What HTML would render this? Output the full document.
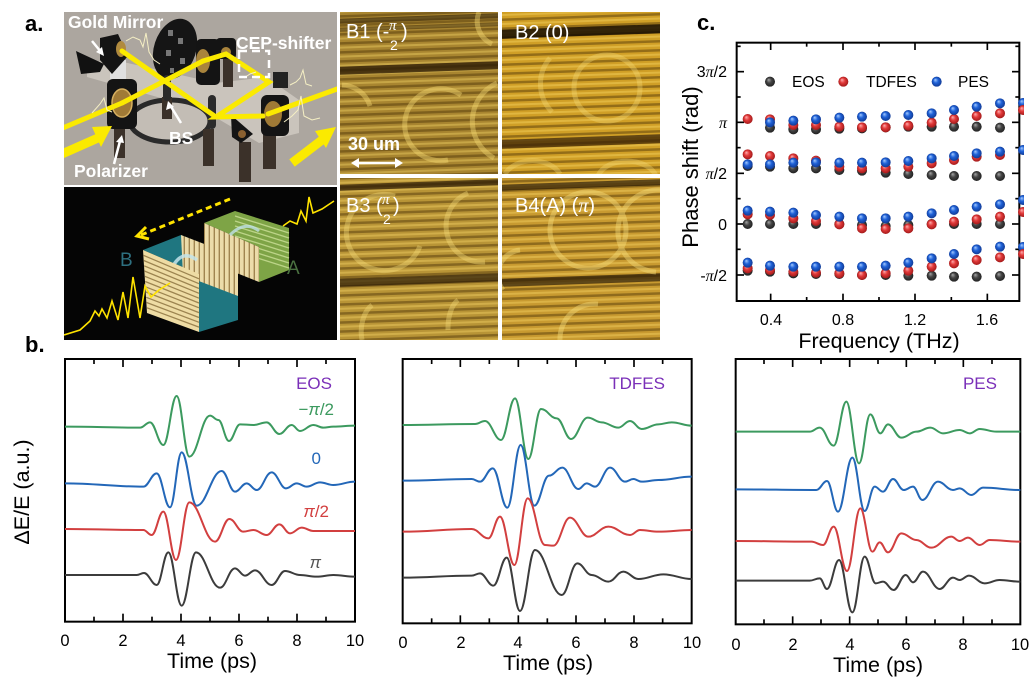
<!DOCTYPE html>
<html><head><meta charset="utf-8">
<style>
html,body{margin:0;padding:0;background:#fff;}
svg{display:block;}
text{font-family:"Liberation Sans",Arial,sans-serif;}
.ser{font-family:"Liberation Serif","Times New Roman",serif;}
</style></head><body>
<svg width="1033" height="693" viewBox="0 0 1033 693" xmlns="http://www.w3.org/2000/svg">
<defs>
<radialGradient id="gk" cx="0.5" cy="0.5" r="0.55" fx="0.35" fy="0.3"><stop offset="0" stop-color="#a8a8a8"/><stop offset="0.45" stop-color="#454545"/><stop offset="1" stop-color="#1c1c1c"/></radialGradient>
<radialGradient id="gr" cx="0.5" cy="0.5" r="0.55" fx="0.35" fy="0.3"><stop offset="0" stop-color="#ffb0b0"/><stop offset="0.45" stop-color="#e23a3a"/><stop offset="1" stop-color="#9a1515"/></radialGradient>
<radialGradient id="gb" cx="0.5" cy="0.5" r="0.55" fx="0.35" fy="0.3"><stop offset="0" stop-color="#a8ccff"/><stop offset="0.45" stop-color="#1f62d8"/><stop offset="1" stop-color="#0f358c"/></radialGradient>
<pattern id="str" width="30" height="9" patternUnits="userSpaceOnUse" patternTransform="rotate(-2)">
<rect y="0" width="30" height="2.5" fill="#4a3006" opacity="0.45"/>
<rect y="4.5" width="30" height="2" fill="#ffe070" opacity="0.35"/>
</pattern>
<pattern id="vs" width="5" height="10" patternUnits="userSpaceOnUse">
<rect width="5" height="10" fill="#ecdcaa"/><rect x="3.6" width="1.4" height="10" fill="#a08550"/>
</pattern>
<clipPath id="cA"><rect x="64" y="12" width="273" height="173"/></clipPath>
<clipPath id="cB"><rect x="64" y="187" width="273" height="153"/></clipPath>
<clipPath id="c1"><rect x="340" y="12" width="158" height="162"/></clipPath>
<clipPath id="c2"><rect x="502" y="12" width="158" height="162"/></clipPath>
<clipPath id="c3"><rect x="340" y="178" width="158" height="162"/></clipPath>
<clipPath id="c4"><rect x="502" y="178" width="158" height="162"/></clipPath>
<clipPath id="cR"><rect x="0" y="0" width="1024" height="693"/></clipPath>
</defs>

<!-- panel labels -->
<text x="25" y="31" font-size="22" font-weight="bold">a.</text>
<text x="25" y="352" font-size="22" font-weight="bold">b.</text>
<text x="697" y="30" font-size="22" font-weight="bold">c.</text>

<!-- ===== Setup image ===== -->
<g clip-path="url(#cA)">
<rect x="64" y="12" width="273" height="173" fill="#aca69f"/>
<polygon points="87,64 110,59 216,83 266,77 299,100 299,133 259,143 203,110 87,77" fill="#cac4bc"/>
<ellipse cx="170" cy="121" rx="40" ry="21" fill="#c3bdb5" stroke="#2a2a2a" stroke-width="5"/>
<g fill="#3b3129">
<rect x="114" y="116" width="11" height="42"/>
<rect x="162" y="97" width="10" height="22"/>
<rect x="203" y="129" width="11" height="37"/>
<rect x="223" y="57" width="10" height="30"/>
<rect x="239" y="142" width="12" height="40"/>
<rect x="263" y="133" width="13" height="36"/>
</g>
<polygon points="76,51 104,64 100,72 81,74" fill="#111"/>
<rect x="110" y="60" width="16" height="30" fill="#e0e0e0"/>
<polygon points="100,38 118,34 128,56 112,74 100,60" fill="#141414"/>
<ellipse cx="121" cy="49" rx="5" ry="8" fill="#b08a3e"/>
<ellipse cx="175" cy="49" rx="21" ry="31" transform="rotate(18 175 49)" fill="#151515"/>
<g fill="#777"><rect x="168" y="30" width="5" height="6"/><rect x="178" y="38" width="5" height="6"/><rect x="166" y="50" width="5" height="6"/><rect x="180" y="58" width="5" height="6"/><rect x="170" y="68" width="4" height="5"/></g>
<rect x="107" y="79" width="30" height="50" rx="6" fill="#141414"/>
<ellipse cx="122" cy="103" rx="10" ry="14" fill="#a07a36" stroke="#d7b060" stroke-width="1.5"/>
<rect x="196" y="39" width="24" height="46" rx="5" fill="#141414"/>
<ellipse cx="203" cy="61" rx="7" ry="12" fill="#a9843c"/>
<rect x="216" y="38" width="20" height="21" rx="4" fill="#141414"/>
<ellipse cx="226" cy="52" rx="5" ry="5" fill="#a9843c"/>
<rect x="261" y="95" width="28" height="41" rx="6" fill="#141414"/>
<ellipse cx="273" cy="114" rx="9" ry="13" fill="#a07a36"/>
<polygon points="231,115 253,134 241,143 232,137" fill="#141414"/>
<circle cx="242" cy="134" r="4" fill="#8a6030"/>
<rect x="163" y="75" width="8" height="26" rx="4" fill="#2b2b2b"/>
<rect x="208" y="95" width="8" height="34" rx="4" fill="#2b2b2b"/>
<rect x="273" y="72" width="15" height="16" fill="#222"/>
<g stroke="#fbea00" stroke-width="5" stroke-linecap="round" fill="none">
<line x1="58" y1="130" x2="122" y2="103"/>
<line x1="122" y1="103" x2="203" y2="61"/>
<line x1="122" y1="51" x2="216" y2="117"/>
<polyline points="203,61 226,54 269,82 216,117 263,116"/>
<line x1="268" y1="114" x2="340" y2="88"/>
</g>
<line x1="62" y1="154" x2="98" y2="138" stroke="#fbea00" stroke-width="9"/>
<polygon points="112,126 92,127 101,147" fill="#fbea00"/>
<line x1="292" y1="163" x2="322" y2="140" stroke="#fbea00" stroke-width="9"/>
<polygon points="336,127 315,131 326,148" fill="#fbea00"/>
<g stroke="#f5efc4" stroke-width="1" fill="none">
<polyline points="126,41 133,37 140,40 143,47 146,33 149,52 154,60 160,64"/>
<polyline points="92,113 100,104 104,98 107,110 112,112"/>
<polyline points="284,122 292,116 298,110 301,96 304,116 312,120 320,118"/>
<polyline points="290,85 296,82 300,78 303,70 306,84 312,86"/>
<polyline points="244,78 250,74 256,72"/>
</g>
<g stroke="#fff" stroke-width="2.5" fill="none" stroke-dasharray="8 5"><rect x="239" y="51" width="30" height="26"/></g>
<g stroke="#fff" stroke-width="2.5" fill="#fff">
<line x1="92" y1="41" x2="101" y2="52"/>
<line x1="114" y1="164" x2="120" y2="141"/>
<line x1="181" y1="123" x2="170" y2="105"/>
</g>
<polygon points="104,56 96,52 102,47" fill="#fff"/>
<polygon points="122,135 116,142 124,143" fill="#fff"/>
<polygon points="168,101 166,110 174,107" fill="#fff"/>
<g fill="#fff" font-weight="bold" font-size="17.5">
<text x="68" y="28">Gold Mirror</text>
<text x="236" y="49">CEP-shifter</text>
<text x="169" y="144">BS</text>
<text x="74" y="177">Polarizer</text>
</g>
</g>

<!-- ===== Metamaterial image ===== -->
<g clip-path="url(#cB)">
<rect x="64" y="187" width="273" height="153" fill="#050505"/>
<polygon points="204,223 235,211 289,228 289,270 259,282 259,247" fill="#7ea446"/>
<g stroke="#bcd488" stroke-width="1.3">
<line x1="235" y1="216" x2="289" y2="233"/><line x1="235" y1="221" x2="289" y2="238"/><line x1="235" y1="226" x2="289" y2="243"/><line x1="235" y1="231" x2="289" y2="248"/><line x1="235" y1="236" x2="289" y2="253"/><line x1="235" y1="241" x2="289" y2="258"/><line x1="235" y1="246" x2="289" y2="263"/><line x1="235" y1="251" x2="289" y2="268"/>
</g>
<polygon points="204,223 259,247 259,282 204,260" fill="url(#vs)"/>
<path d="M230,235 Q245,220 259,231" stroke="#bfe0e6" stroke-width="3" fill="none" opacity="0.8"/>
<polygon points="143,250 181,235 238,258 238,320 199,332 199,274" fill="#1f7680"/>
<polygon points="181,235 238,257 238,296 183,275" fill="url(#vs)"/>
<path d="M171,270 Q181,248 197,260" stroke="#c4e4ea" stroke-width="3.5" fill="none" opacity="0.85"/>
<polygon points="143,250 199,274 199,332 147,313" fill="#eedca4"/>
<g stroke="#9c8450" stroke-width="1.3">
<line x1="143.4" y1="255.3" x2="199" y2="278.8"/><line x1="143.7" y1="260.5" x2="199" y2="283.7"/><line x1="144.1" y1="265.8" x2="199" y2="288.5"/><line x1="144.4" y1="271" x2="199" y2="293.3"/><line x1="144.8" y1="276.3" x2="199" y2="298.2"/><line x1="145.2" y1="281.5" x2="199" y2="303"/><line x1="145.5" y1="286.8" x2="199" y2="307.8"/><line x1="145.9" y1="292" x2="199" y2="312.6"/><line x1="146.2" y1="297.3" x2="199" y2="317.5"/><line x1="146.6" y1="302.5" x2="199" y2="322.3"/><line x1="147" y1="307.8" x2="199" y2="327.1"/>
</g>
<line x1="230" y1="199" x2="141" y2="235" stroke="#ffe300" stroke-width="3" stroke-dasharray="6 4"/>
<polyline points="146,227 137,236 149,239" stroke="#ffe300" stroke-width="3" fill="none"/>
<polyline points="334,201 322,209 313,213 309,197 306,221 301,211 297,224 290,221 283,226" stroke="#ffe300" stroke-width="1.6" fill="none"/>
<polyline points="64,335 80,330 90,321 95,311 99,316 102,309 107,318 112,301 118,320 123,292 128,318 133,277 140,318 145,286 151,297 159,290 170,283" stroke="#ffe300" stroke-width="1.6" fill="none"/>
<text x="120" y="266" font-size="19" fill="#2e7080">B</text>
<text x="287" y="274" font-size="19" fill="#4a7040">A</text>
</g>

<!-- ===== Microscope tiles ===== -->
<g clip-path="url(#c1)">
<rect x="340" y="12" width="158" height="162" fill="#a88530"/>
<rect x="330" y="5" width="180" height="175" fill="url(#str)"/>
<g transform="rotate(-2 419 90)">
<rect x="330" y="16" width="180" height="5" fill="#2a1a05" opacity="0.6"/>
<rect x="330" y="25" width="180" height="4" fill="#3a2808" opacity="0.5"/>
<rect x="330" y="64" width="180" height="8" fill="#2a1a05" opacity="0.75"/>
</g>
<g stroke="#f3d772" stroke-width="5" fill="none" opacity="0.45">
<path d="M461,95 A36 36 0 1 0 448,160"/>
<path d="M342,85 A30 30 0 0 1 370,106"/>
<path d="M497,83 A42 42 0 0 0 494,158"/>
<path d="M479,12 A25 25 0 0 0 492,44"/>
</g>
</g>
<g clip-path="url(#c2)">
<rect x="502" y="12" width="158" height="162" fill="#d09f26"/>
<rect x="490" y="5" width="180" height="175" fill="url(#str)"/>
<g transform="rotate(-2 581 90)">
<rect x="490" y="27" width="180" height="9" fill="#150c02" opacity="0.85"/>
<rect x="490" y="137" width="180" height="9" fill="#3a2205" opacity="0.75"/>
</g>
<g stroke="#f5dc7a" stroke-width="5" fill="none" opacity="0.35">
<circle cx="607" cy="88" r="33"/>
<path d="M550,58 A40 40 0 0 0 552,112"/>
<path d="M505,174 A30 22 0 0 1 560,174"/>
<path d="M598,176 A30 20 0 0 1 656,176"/>
</g>
</g>
<g clip-path="url(#c3)">
<rect x="340" y="178" width="158" height="162" fill="#b89436"/>
<rect x="330" y="170" width="180" height="175" fill="url(#str)"/>
<g transform="rotate(-2 419 259)">
<rect x="330" y="182" width="180" height="6" fill="#2a1a05" opacity="0.7"/>
<rect x="330" y="276" width="180" height="8" fill="#2a1a05" opacity="0.7"/>
</g>
<g stroke="#f5dc7a" stroke-width="5" fill="none" opacity="0.4">
<path d="M395,196 A38 38 0 1 0 420,246"/>
<path d="M468,193 A36 36 0 0 0 485,262"/>
<path d="M362,340 A20 30 0 0 1 372,305"/>
<path d="M448,330 A15 30 0 0 1 458,300"/>
</g>
</g>
<g clip-path="url(#c4)">
<rect x="502" y="178" width="158" height="162" fill="#c89a30"/>
<rect x="490" y="170" width="180" height="175" fill="url(#str)"/>
<g transform="rotate(-2 581 259)">
<rect x="490" y="182" width="180" height="6" fill="#2a1a05" opacity="0.7"/>
<rect x="490" y="276" width="180" height="8" fill="#2a1a05" opacity="0.7"/>
</g>
<g stroke="#f5dc7a" stroke-width="5" fill="none" opacity="0.45">
<circle cx="588" cy="230" r="38"/>
<path d="M662,190 A40 40 0 0 0 656,272"/>
<path d="M560,340 A35 35 0 0 1 598,304"/>
<path d="M503,290 A25 25 0 0 1 520,250"/>
</g>
</g>
<!-- tile labels -->
<g fill="#fff" font-size="20">
<text x="346" y="38">B1 (-</text>
<text x="389" y="30" font-size="15" class="ser" font-style="italic">π</text>
<text x="390" y="50" font-size="14">2</text>
<text x="401" y="38">)</text>
<text x="515" y="39">B2 (0)</text>
<text x="346" y="212">B3 (</text>
<text x="382" y="204" font-size="15" class="ser" font-style="italic">π</text>
<text x="383" y="224" font-size="14">2</text>
<text x="393" y="212">)</text>
<text x="515" y="212">B4(A) (<tspan class="ser" font-style="italic">π</tspan>)</text>
<text x="348" y="150" font-weight="bold" font-size="18">30 um</text>
</g>
<line x1="356" y1="163" x2="398" y2="163" stroke="#fff" stroke-width="2.5"/>
<polygon points="351,163 359,158 359,168" fill="#fff"/>
<polygon points="403,163 395,158 395,168" fill="#fff"/>

<!-- ===== Panel c ===== -->
<g transform="translate(680,0) scale(0.333333)">
<rect x="170" y="128" width="848" height="775" fill="none" stroke="#000" stroke-width="6"/>
<g stroke="#000" stroke-width="5">
<line x1="170" y1="215" x2="192" y2="215"/><line x1="170" y1="367" x2="192" y2="367"/><line x1="170" y1="520" x2="192" y2="520"/><line x1="170" y1="672" x2="192" y2="672"/><line x1="170" y1="825" x2="192" y2="825"/>
<line x1="170" y1="139" x2="182" y2="139"/><line x1="170" y1="291" x2="182" y2="291"/><line x1="170" y1="443" x2="182" y2="443"/><line x1="170" y1="596" x2="182" y2="596"/><line x1="170" y1="748" x2="182" y2="748"/>
<line x1="1018" y1="215" x2="996" y2="215"/><line x1="1018" y1="367" x2="996" y2="367"/><line x1="1018" y1="520" x2="996" y2="520"/><line x1="1018" y1="672" x2="996" y2="672"/><line x1="1018" y1="825" x2="996" y2="825"/>
<line x1="1018" y1="139" x2="1006" y2="139"/><line x1="1018" y1="291" x2="1006" y2="291"/><line x1="1018" y1="443" x2="1006" y2="443"/><line x1="1018" y1="596" x2="1006" y2="596"/><line x1="1018" y1="748" x2="1006" y2="748"/>
<line x1="272" y1="903" x2="272" y2="881"/><line x1="489" y1="903" x2="489" y2="881"/><line x1="705" y1="903" x2="705" y2="881"/><line x1="922" y1="903" x2="922" y2="881"/>
<line x1="380" y1="903" x2="380" y2="891"/><line x1="597" y1="903" x2="597" y2="891"/><line x1="814" y1="903" x2="814" y2="891"/>
<line x1="272" y1="128" x2="272" y2="150"/><line x1="489" y1="128" x2="489" y2="150"/><line x1="705" y1="128" x2="705" y2="150"/><line x1="922" y1="128" x2="922" y2="150"/>
<line x1="380" y1="128" x2="380" y2="140"/><line x1="597" y1="128" x2="597" y2="140"/><line x1="814" y1="128" x2="814" y2="140"/>
</g>
<!-- black -->
<g fill="url(#gk)">
<circle cx="270" cy="383" r="15"/><circle cx="340" cy="388" r="15"/><circle cx="408" cy="388" r="15"/><circle cx="478" cy="386" r="15"/><circle cx="546" cy="385" r="15"/><circle cx="617" cy="382" r="15"/><circle cx="685" cy="380" r="15"/><circle cx="755" cy="380" r="15"/><circle cx="822" cy="380" r="15"/><circle cx="890" cy="380" r="15"/><circle cx="960" cy="383" r="15"/>
<circle cx="203" cy="498" r="15"/><circle cx="270" cy="500" r="15"/><circle cx="340" cy="505" r="15"/><circle cx="408" cy="505" r="15"/><circle cx="478" cy="510" r="15"/><circle cx="546" cy="512" r="15"/><circle cx="617" cy="518" r="15"/><circle cx="685" cy="522" r="15"/><circle cx="755" cy="525" r="15"/><circle cx="822" cy="528" r="15"/><circle cx="890" cy="528" r="15"/><circle cx="960" cy="528" r="15"/>
<circle cx="203" cy="672" r="15"/><circle cx="270" cy="672" r="15"/><circle cx="340" cy="672" r="15"/><circle cx="408" cy="672" r="15"/><circle cx="478" cy="672" r="15"/><circle cx="546" cy="675" r="15"/><circle cx="617" cy="678" r="15"/><circle cx="685" cy="675" r="15"/><circle cx="755" cy="672" r="15"/><circle cx="822" cy="672" r="15"/><circle cx="890" cy="672" r="15"/><circle cx="960" cy="672" r="15"/>
<circle cx="203" cy="812" r="15"/><circle cx="270" cy="815" r="15"/><circle cx="340" cy="820" r="15"/><circle cx="408" cy="822" r="15"/><circle cx="478" cy="822" r="15"/><circle cx="546" cy="825" r="15"/><circle cx="617" cy="825" r="15"/><circle cx="685" cy="827" r="15"/><circle cx="755" cy="827" r="15"/><circle cx="822" cy="830" r="15"/><circle cx="890" cy="830" r="15"/><circle cx="960" cy="828" r="15"/>
</g>
<!-- red -->
<g fill="url(#gr)">
<circle cx="203" cy="357" r="15"/><circle cx="270" cy="358" r="15"/><circle cx="340" cy="375" r="15"/><circle cx="408" cy="375" r="15"/><circle cx="478" cy="380" r="15"/><circle cx="546" cy="382" r="15"/><circle cx="617" cy="382" r="15"/><circle cx="685" cy="377" r="15"/><circle cx="755" cy="368" r="15"/><circle cx="822" cy="357" r="15"/><circle cx="890" cy="348" r="15"/><circle cx="960" cy="340" r="15"/>
<circle cx="203" cy="463" r="15"/><circle cx="270" cy="468" r="15"/><circle cx="340" cy="475" r="15"/><circle cx="408" cy="482" r="15"/><circle cx="478" cy="500" r="15"/><circle cx="546" cy="505" r="15"/><circle cx="617" cy="505" r="15"/><circle cx="685" cy="500" r="15"/><circle cx="755" cy="490" r="15"/><circle cx="822" cy="480" r="15"/><circle cx="890" cy="470" r="15"/><circle cx="960" cy="465" r="15"/>
<circle cx="203" cy="643" r="15"/><circle cx="270" cy="645" r="15"/><circle cx="340" cy="655" r="15"/><circle cx="408" cy="663" r="15"/><circle cx="478" cy="673" r="15"/><circle cx="546" cy="685" r="15"/><circle cx="617" cy="687" r="15"/><circle cx="685" cy="685" r="15"/><circle cx="755" cy="673" r="15"/><circle cx="822" cy="665" r="15"/><circle cx="890" cy="658" r="15"/><circle cx="960" cy="650" r="15"/>
<circle cx="203" cy="805" r="15"/><circle cx="270" cy="810" r="15"/><circle cx="340" cy="815" r="15"/><circle cx="408" cy="818" r="15"/><circle cx="478" cy="820" r="15"/><circle cx="546" cy="825" r="15"/><circle cx="617" cy="820" r="15"/><circle cx="685" cy="812" r="15"/><circle cx="755" cy="800" r="15"/><circle cx="822" cy="790" r="15"/><circle cx="890" cy="780" r="15"/><circle cx="960" cy="772" r="15"/>
</g>
<!-- blue -->
<g fill="url(#gb)">
<circle cx="270" cy="367" r="15"/><circle cx="340" cy="362" r="15"/><circle cx="408" cy="358" r="15"/><circle cx="478" cy="353" r="15"/><circle cx="546" cy="350" r="15"/><circle cx="617" cy="348" r="15"/><circle cx="685" cy="345" r="15"/><circle cx="755" cy="340" r="15"/><circle cx="822" cy="330" r="15"/><circle cx="890" cy="320" r="15"/><circle cx="960" cy="310" r="15"/>
<circle cx="203" cy="493" r="15"/><circle cx="270" cy="493" r="15"/><circle cx="340" cy="488" r="15"/><circle cx="408" cy="487" r="15"/><circle cx="478" cy="488" r="15"/><circle cx="546" cy="488" r="15"/><circle cx="617" cy="487" r="15"/><circle cx="685" cy="483" r="15"/><circle cx="755" cy="475" r="15"/><circle cx="822" cy="468" r="15"/><circle cx="890" cy="460" r="15"/><circle cx="960" cy="455" r="15"/>
<circle cx="203" cy="632" r="15"/><circle cx="270" cy="635" r="15"/><circle cx="340" cy="638" r="15"/><circle cx="408" cy="645" r="15"/><circle cx="478" cy="650" r="15"/><circle cx="546" cy="655" r="15"/><circle cx="617" cy="655" r="15"/><circle cx="685" cy="650" r="15"/><circle cx="755" cy="640" r="15"/><circle cx="822" cy="630" r="15"/><circle cx="890" cy="620" r="15"/><circle cx="960" cy="613" r="15"/>
<circle cx="203" cy="788" r="15"/><circle cx="270" cy="797" r="15"/><circle cx="340" cy="800" r="15"/><circle cx="408" cy="800" r="15"/><circle cx="478" cy="800" r="15"/><circle cx="546" cy="800" r="15"/><circle cx="617" cy="797" r="15"/><circle cx="685" cy="788" r="15"/><circle cx="755" cy="775" r="15"/><circle cx="822" cy="762" r="15"/><circle cx="890" cy="748" r="15"/><circle cx="960" cy="740" r="15"/>
</g>
<circle cx="270" cy="245" r="15" fill="url(#gk)"/>
<circle cx="490" cy="245" r="15" fill="url(#gr)"/>
<circle cx="770" cy="245" r="15" fill="url(#gb)"/>
</g>
<g clip-path="url(#cR)">
<circle cx="1023" cy="103" r="5" fill="url(#gb)"/><circle cx="1023" cy="110" r="5" fill="url(#gr)"/>
<circle cx="1023" cy="150" r="5" fill="url(#gb)"/><circle cx="1023" cy="200" r="5" fill="url(#gb)"/>
<circle cx="1023" cy="212" r="5" fill="url(#gr)"/><circle cx="1023" cy="247" r="5" fill="url(#gb)"/><circle cx="1023" cy="254" r="5" fill="url(#gr)"/>
</g>
<g font-size="15.5">
<text x="792" y="87">EOS</text>
<text x="866" y="87">TDFES</text>
<text x="958" y="87">PES</text>
</g>
<g font-size="16" text-anchor="end">
<text x="727" y="77">3<tspan class="ser" font-style="italic">π</tspan>/2</text>
<text x="727" y="128" class="ser" font-style="italic">π</text>
<text x="727" y="179"><tspan class="ser" font-style="italic">π</tspan>/2</text>
<text x="727" y="230">0</text>
<text x="727" y="281">-<tspan class="ser" font-style="italic">π</tspan>/2</text>
</g>
<g font-size="16" text-anchor="middle">
<text x="771" y="325">0.4</text><text x="843" y="325">0.8</text><text x="915" y="325">1.2</text><text x="987" y="325">1.6</text>
</g>
<text x="879" y="348" font-size="21.5" text-anchor="middle">Frequency (THz)</text>
<text transform="translate(698,167) rotate(-90)" font-size="22" text-anchor="middle">Phase shift (rad)</text>

<!-- ===== Panel b plot 1 (EOS) ===== -->
<g transform="translate(0,335) scale(0.333333)">
<rect x="195" y="72" width="870" height="788" fill="none" stroke="#000" stroke-width="6"/>
<g stroke="#000" stroke-width="5">
<line x1="369" y1="72" x2="369" y2="96"/><line x1="543" y1="72" x2="543" y2="96"/><line x1="717" y1="72" x2="717" y2="96"/><line x1="891" y1="72" x2="891" y2="96"/>
<line x1="282" y1="72" x2="282" y2="87"/><line x1="456" y1="72" x2="456" y2="87"/><line x1="630" y1="72" x2="630" y2="87"/><line x1="804" y1="72" x2="804" y2="87"/><line x1="978" y1="72" x2="978" y2="87"/>
<line x1="369" y1="860" x2="369" y2="836"/><line x1="543" y1="860" x2="543" y2="836"/><line x1="717" y1="860" x2="717" y2="836"/><line x1="891" y1="860" x2="891" y2="836"/>
<line x1="282" y1="860" x2="282" y2="845"/><line x1="456" y1="860" x2="456" y2="845"/><line x1="630" y1="860" x2="630" y2="845"/><line x1="804" y1="860" x2="804" y2="845"/><line x1="978" y1="860" x2="978" y2="845"/>
</g>
<g fill="none" stroke-width="6" stroke-linejoin="round">
<path stroke="#3c9a5f" d="M195,275 C285,275 330,278 420,278 C432,278 438,262 450,262 C466,262 474,330 490,330 C506,330 514,183 530,183 C545,183 553,365 568,365 C593,365 605,242 630,242 C640,242 645,255 655,255 C668,255 674,318 687,318 C700,318 707,268 720,268 C736,268 744,270 760,270 C776,270 784,262 800,262 C815,262 823,297 838,297 C853,297 860,270 875,270 C885,270 890,288 900,288 C916,288 924,270 940,270 C952,270 958,278 970,278 C982,278 988,275 1000,275 C1026,275 1039,272 1065,272"/>
<path stroke="#2367b8" d="M195,445 C289,445 336,455 430,455 C446,455 454,415 470,415 C486,415 494,517 510,517 C524,517 531,352 545,352 C563,352 572,512 590,512 C620,512 635,408 665,408 C681,408 689,470 705,470 C719,470 726,445 740,445 C752,445 758,465 770,465 C788,465 797,412 815,412 C832,412 841,460 858,460 C871,460 877,445 890,445 C902,445 908,455 920,455 C936,455 944,442 960,442 C976,442 984,450 1000,450 C1026,450 1039,440 1065,440"/>
<path stroke="#d23f3f" d="M195,582 C289,582 336,585 430,585 C440,585 445,600 455,600 C469,600 476,530 490,530 C505,530 513,675 528,675 C544,675 552,502 568,502 C599,502 614,620 645,620 C662,620 671,552 688,552 C705,552 713,590 730,590 C742,590 748,585 760,585 C776,585 784,600 800,600 C815,600 823,568 838,568 C851,568 857,595 870,595 C884,595 891,578 905,578 C919,578 926,588 940,588 C990,588 1015,588 1065,588"/>
<path stroke="#3c3c3c" d="M195,720 C281,720 324,720 410,720 C419,720 423,714 432,714 C447,714 455,750 470,750 C484,750 491,652 505,652 C521,652 529,812 545,812 C562,812 571,652 588,652 C617,652 631,758 660,758 C678,758 687,700 705,700 C717,700 723,722 735,722 C747,722 753,706 765,706 C785,706 795,750 815,750 C831,750 839,708 855,708 C873,708 882,720 900,720 C920,720 930,725 950,725 C970,725 980,720 1000,720 C1026,720 1039,725 1065,725"/>
</g>
</g>
<g font-size="16.5" text-anchor="middle">
<text x="65" y="646">0</text><text x="123" y="646">2</text><text x="181" y="646">4</text><text x="239" y="646">6</text><text x="297" y="646">8</text><text x="355" y="646">10</text>
</g>
<text x="212" y="668" font-size="21.5" text-anchor="middle">Time (ps)</text>
<text transform="translate(29,492) rotate(-90)" font-size="21.5" text-anchor="middle">ΔE/E (a.u.)</text>
<text x="332" y="389" font-size="17" fill="#7a2fb8" text-anchor="end">EOS</text>
<g class="ser" font-size="17" text-anchor="end">
<text x="334" y="415" fill="#3c9a5f">−<tspan font-style="italic">π</tspan>/2</text>
<text x="321" y="464" fill="#2367b8">0</text>
<text x="329" y="517" fill="#d23f3f"><tspan font-style="italic">π</tspan>/2</text>
<text x="321" y="568" fill="#555" font-style="italic">π</text>
</g>

<!-- ===== Panel b plot 2 (TDFES) ===== -->
<g transform="translate(345,335) scale(0.333333)">
<rect x="173" y="72" width="867" height="793" fill="none" stroke="#000" stroke-width="6"/>
<g stroke="#000" stroke-width="5">
<line x1="346" y1="72" x2="346" y2="96"/><line x1="520" y1="72" x2="520" y2="96"/><line x1="693" y1="72" x2="693" y2="96"/><line x1="867" y1="72" x2="867" y2="96"/>
<line x1="260" y1="72" x2="260" y2="87"/><line x1="433" y1="72" x2="433" y2="87"/><line x1="607" y1="72" x2="607" y2="87"/><line x1="780" y1="72" x2="780" y2="87"/><line x1="953" y1="72" x2="953" y2="87"/>
<line x1="346" y1="865" x2="346" y2="841"/><line x1="520" y1="865" x2="520" y2="841"/><line x1="693" y1="865" x2="693" y2="841"/><line x1="867" y1="865" x2="867" y2="841"/>
<line x1="260" y1="865" x2="260" y2="850"/><line x1="433" y1="865" x2="433" y2="850"/><line x1="607" y1="865" x2="607" y2="850"/><line x1="780" y1="865" x2="780" y2="850"/><line x1="953" y1="865" x2="953" y2="850"/>
</g>
<g fill="none" stroke-width="6" stroke-linejoin="round">
<path stroke="#3c9a5f" d="M173,270 C260,270 303,267 390,267 C402,267 408,258 420,258 C439,258 449,315 468,315 C485,315 493,190 510,190 C526,190 534,372 550,372 C565,372 573,222 588,222 C607,222 616,250 635,250 C652,250 661,312 678,312 C698,312 708,248 728,248 C745,248 753,262 770,262 C790,262 800,278 820,278 C834,278 841,258 855,258 C869,258 876,282 890,282 C910,282 920,268 940,268 C956,268 964,262 980,262 C1004,262 1016,272 1040,272"/>
<path stroke="#2367b8" d="M173,437 C256,437 297,432 380,432 C390,432 395,440 405,440 C420,440 428,400 443,400 C461,400 469,518 487,518 C503,518 511,330 527,330 C543,330 552,512 568,512 C586,512 594,422 612,422 C628,422 636,398 652,398 C671,398 681,462 700,462 C710,462 715,445 725,445 C735,445 740,455 750,455 C768,455 777,398 795,398 C813,398 822,440 840,440 C850,440 855,432 865,432 C875,432 880,440 890,440 C910,440 920,435 940,435 C980,435 1000,425 1040,425"/>
<path stroke="#d23f3f" d="M173,590 C256,590 297,582 380,582 C400,582 410,610 430,610 C444,610 451,545 465,545 C482,545 491,690 508,690 C524,690 532,490 548,490 C569,490 579,630 600,630 C610,630 615,632 625,632 C645,632 655,548 675,548 C697,548 708,605 730,605 C754,605 766,575 790,575 C816,575 829,600 855,600 C867,600 873,585 885,585 C907,585 918,590 940,590 C980,590 1000,585 1040,585"/>
<path stroke="#3c3c3c" d="M173,728 C256,728 297,722 380,722 C390,722 395,715 405,715 C421,715 429,752 445,752 C461,752 469,668 485,668 C501,668 509,828 525,828 C543,828 552,645 570,645 C602,645 618,780 650,780 C669,780 678,685 697,685 C714,685 723,720 740,720 C760,720 770,740 790,740 C808,740 817,710 835,710 C853,710 862,732 880,732 C910,732 925,718 955,718 C989,718 1006,732 1040,732"/>
</g>
</g>
<g font-size="16.5" text-anchor="middle">
<text x="403" y="648">0</text><text x="461" y="648">2</text><text x="518" y="648">4</text><text x="576" y="648">6</text><text x="634" y="648">8</text><text x="692" y="648">10</text>
</g>
<text x="548" y="670" font-size="21.5" text-anchor="middle">Time (ps)</text>
<text x="665" y="389" font-size="17" fill="#7a2fb8" text-anchor="end">TDFES</text>

<!-- ===== Panel b plot 3 (PES) ===== -->
<g transform="translate(683,335) scale(0.333333)">
<rect x="158" y="72" width="854" height="796" fill="none" stroke="#000" stroke-width="6"/>
<g stroke="#000" stroke-width="5">
<line x1="329" y1="72" x2="329" y2="96"/><line x1="500" y1="72" x2="500" y2="96"/><line x1="670" y1="72" x2="670" y2="96"/><line x1="841" y1="72" x2="841" y2="96"/>
<line x1="243" y1="72" x2="243" y2="87"/><line x1="414" y1="72" x2="414" y2="87"/><line x1="585" y1="72" x2="585" y2="87"/><line x1="756" y1="72" x2="756" y2="87"/><line x1="927" y1="72" x2="927" y2="87"/>
<line x1="329" y1="868" x2="329" y2="844"/><line x1="500" y1="868" x2="500" y2="844"/><line x1="670" y1="868" x2="670" y2="844"/><line x1="841" y1="868" x2="841" y2="844"/>
<line x1="243" y1="868" x2="243" y2="853"/><line x1="414" y1="868" x2="414" y2="853"/><line x1="585" y1="868" x2="585" y2="853"/><line x1="756" y1="868" x2="756" y2="853"/><line x1="927" y1="868" x2="927" y2="853"/>
</g>
<g fill="none" stroke-width="6" stroke-linejoin="round">
<path stroke="#3c9a5f" d="M158,290 C247,290 291,290 380,290 C392,290 398,278 410,278 C427,278 435,332 452,332 C467,332 475,200 490,200 C505,200 513,385 528,385 C542,385 548,238 562,238 C574,238 580,295 592,295 C601,295 606,268 615,268 C631,268 639,308 655,308 C673,308 682,290 700,290 C717,290 725,278 742,278 C757,278 765,295 780,295 C800,295 810,285 830,285 C842,285 848,295 860,295 C872,295 878,282 890,282 C910,282 920,290 940,290 C969,290 983,290 1012,290"/>
<path stroke="#2367b8" d="M158,463 C255,463 303,465 400,465 C413,465 419,438 432,438 C445,438 452,530 465,530 C482,530 491,368 508,368 C523,368 530,528 545,528 C557,528 563,455 575,455 C585,455 590,470 600,470 C612,470 618,432 630,432 C643,432 649,465 662,465 C673,465 679,455 690,455 C701,455 707,495 718,495 C737,495 746,440 765,440 C783,440 792,465 810,465 C818,465 822,460 830,460 C844,460 851,480 865,480 C879,480 886,458 900,458 C945,458 967,465 1012,465"/>
<path stroke="#d23f3f" d="M158,618 C249,618 294,620 385,620 C399,620 406,630 420,630 C433,630 439,575 452,575 C468,575 476,708 492,708 C508,708 516,520 532,520 C546,520 554,650 568,650 C577,650 581,622 590,622 C600,622 605,652 615,652 C631,652 639,595 655,595 C673,595 682,615 700,615 C718,615 727,638 745,638 C769,638 781,605 805,605 C815,605 820,618 830,618 C840,618 845,608 855,608 C869,608 876,630 890,630 C902,630 908,615 920,615 C957,615 975,620 1012,620"/>
<path stroke="#3c3c3c" d="M158,737 C247,737 291,737 380,737 C392,737 398,730 410,730 C419,730 423,762 432,762 C446,762 454,675 468,675 C484,675 492,832 508,832 C523,832 530,665 545,665 C558,665 565,745 578,745 C587,745 591,740 600,740 C613,740 619,765 632,765 C646,765 654,720 668,720 C677,720 681,742 690,742 C702,742 708,710 720,710 C740,710 750,762 770,762 C786,762 794,728 810,728 C818,728 822,735 830,735 C841,735 847,722 858,722 C877,722 886,745 905,745 C923,745 932,735 950,735 C975,735 987,740 1012,740"/>
</g>
</g>
<g font-size="16.5" text-anchor="middle">
<text x="736" y="650">0</text><text x="793" y="650">2</text><text x="850" y="650">4</text><text x="906" y="650">6</text><text x="963" y="650">8</text><text x="1020" y="650">10</text>
</g>
<text x="878" y="672" font-size="21.5" text-anchor="middle">Time (ps)</text>
<text x="997" y="389" font-size="17" fill="#7a2fb8" text-anchor="end">PES</text>
</svg>
</body></html>
